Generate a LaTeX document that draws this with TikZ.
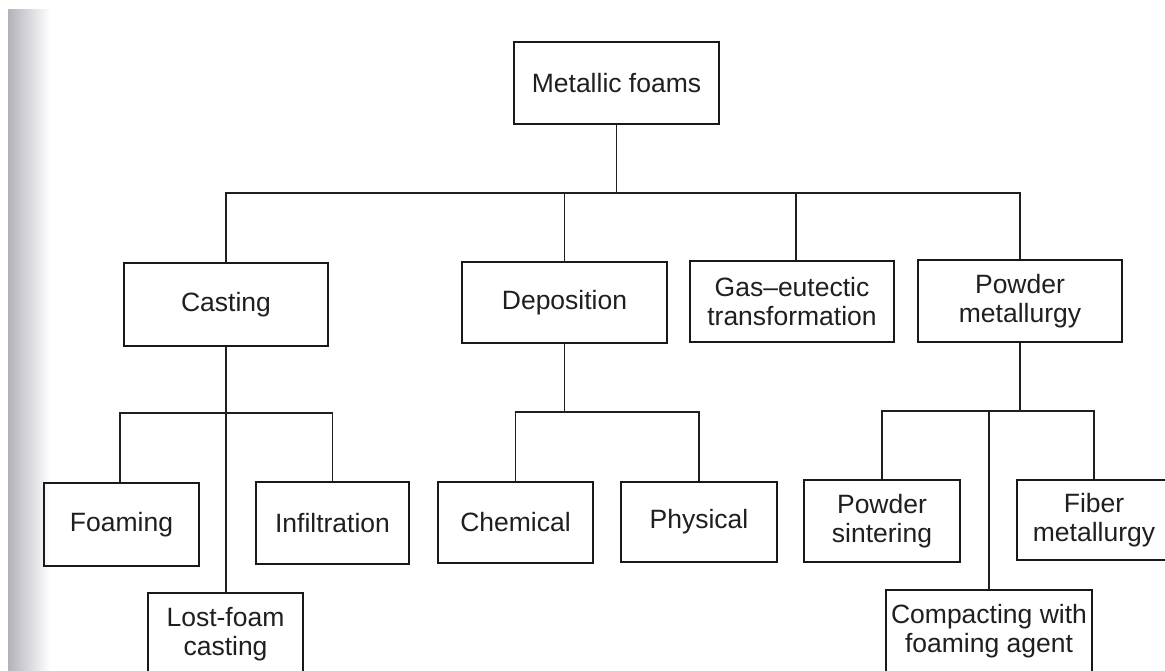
\documentclass[tikz,border=0pt]{standalone}
\usepackage{fontspec}
\setmainfont{Liberation Sans}
\begin{document}
\begin{tikzpicture}[x=1pt,y=-1pt,
  box/.style={draw=black!90, line width=1.6pt, rectangle, inner sep=0pt, align=center,
    font=\fontsize{26.5}{29}\selectfont, text=black!88},
  conn/.style={draw=black!88, line width=1.6pt}]
\clip (0,0) rectangle (1165,671);
\fill[white] (0,0) rectangle (1165,671);
\shade[left color={rgb,255:red,178;green,178;blue,186}, right color=white] (8,10) rectangle (50,671);
% level 0
\node[box, minimum width=205pt, minimum height=82pt] (mf) at (616.5,83) {Metallic foams};
% level 1
\node[box, minimum width=204pt, minimum height=83pt] (cast) at (226,304.5) {Casting};
\node[box, minimum width=205pt, minimum height=81pt] (dep) at (564.5,302.5) {Deposition};
\node[box, minimum width=204pt, minimum height=81pt] (gas) at (792,301.5) {Gas--eutectic\\transformation};
\node[box, minimum width=204pt, minimum height=82pt] (pm) at (1020,301) {Powder\\metallurgy};
% level 2
\node[box, minimum width=155pt, minimum height=83pt] (foam) at (121.5,524.5) {Foaming};
\node[box, minimum width=153pt, minimum height=82pt] (infil) at (332.5,523) {Infiltration};
\node[box, minimum width=155pt, minimum height=82pt] (lost) at (225.5,634) {Lost-foam\\casting};
\node[box, minimum width=155pt, minimum height=81pt] (chem) at (515.5,522.5) {Chemical};
\node[box, minimum width=156pt, minimum height=80pt] (phys) at (699,522) {Physical};
\node[box, minimum width=156pt, minimum height=82pt] (sint) at (882,521) {Powder\\sintering};
\node[box, minimum width=154pt, minimum height=80pt] (fiber) at (1094,520) {Fiber\\metallurgy};
\node[box, minimum width=206pt, minimum height=82pt] (comp) at (989,631) {Compacting with\\foaming agent};
% bus coordinates
\coordinate (bus1) at (0,193);
\coordinate (bus2) at (0,413);
\coordinate (bus3) at (0,412);
\coordinate (bus4) at (0,411);
% top level connectors
\draw[conn] (mf.south) -- (mf.south |- bus1);
\draw[conn] (cast.north) |- (pm.north |- bus1) -- (pm.north);
\draw[conn] (dep.north) -- (dep.north |- bus1);
\draw[conn] ([xshift=4pt]gas.north) -- ([xshift=4pt]gas.north |- bus1);
% casting
\draw[conn] (cast.south) -- (cast.south |- lost.north);
\draw[conn] ([xshift=-1.5pt]foam.north) |- (infil.north |- bus2) -- (infil.north);
% deposition
\draw[conn] (dep.south) -- (dep.south |- bus3);
\draw[conn] (chem.north) |- (phys.north |- bus3) -- (phys.north);
% powder metallurgy
\draw[conn] (pm.south) -- (pm.south |- bus4);
\draw[conn] (sint.north) |- (fiber.north |- bus4) -- (fiber.north);
\draw[conn] (comp.north) -- (comp.north |- bus4);
\end{tikzpicture}
\end{document}
